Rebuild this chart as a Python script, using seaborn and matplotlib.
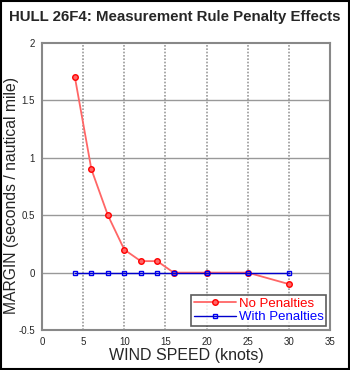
import numpy as np
import pandas as pd
import seaborn as sns
import matplotlib.pyplot as plt
from matplotlib.patches import Rectangle

# data
wind = [4, 6, 8, 10, 12, 14, 16, 20, 25, 30]
no_pen = [1.7, 0.9, 0.5, 0.2, 0.1, 0.1, 0.0, 0.0, 0.0, -0.1]
with_pen = [0, 0, 0, 0, 0, 0, 0, 0, 0, 0]
x_ticks = [0, 5, 10, 15, 20, 25, 30, 35]
y_ticks = [-0.5, 0, 0.5, 1, 1.5, 2]
y_labels = ['-0.5', '0', '0.5', '1', '1.5', '2']

df = pd.DataFrame({'wind': wind * 2,
                   'margin': no_pen + with_pen,
                   'series': ['No Penalties'] * len(wind) + ['With Penalties'] * len(wind)})

sns.set_style('white')
plt.rcParams['font.family'] = ['Liberation Sans', 'DejaVu Sans']

fig = plt.figure(figsize=(3.5, 3.7), dpi=100)
ax = fig.add_axes([0.12, 0.108, 0.823, 0.776])

# grid
for y in [0, 0.5, 1, 1.5]:
    ax.axhline(y, color='#999999', lw=1, zorder=0)
for x in [5, 10, 15, 20, 25, 30]:
    ax.axvline(x, color='#999999', lw=1.2, ls=(0, (1, 1)), zorder=0)

sns.lineplot(data=df[df.series == 'No Penalties'], x='wind', y='margin', ax=ax,
             color='#ff6666', lw=1.3, marker='o', markersize=4,
             markerfacecolor='#ff6666', markeredgecolor='red', markeredgewidth=1,
             label='No Penalties')
sns.lineplot(data=df[df.series == 'With Penalties'], x='wind', y='margin', ax=ax,
             color='#0000cc', lw=1.0, ls=(0, (4, 2)), marker='s', markersize=3.5,
             markerfacecolor='none', markeredgecolor='#0000ee', markeredgewidth=1,
             label='With Penalties')

ax.set_xlim(0, 35)
ax.set_ylim(-0.5, 2)
ax.set_xticks(x_ticks)
ax.set_yticks(y_ticks)
ax.set_yticklabels(y_labels)
ax.tick_params(labelsize=7, length=0, pad=5)
for s in ax.spines.values():
    s.set_color('#888888')
    s.set_linewidth(1.5)

ax.set_xlabel('WIND SPEED (knots)', fontsize=11.5, labelpad=1)
ax.set_ylabel('MARGIN (seconds / nautical mile)', fontsize=11.3)
ax.yaxis.set_label_coords(-0.08, 0.47)
fig.text(0.5, 0.955, 'HULL 26F4: Measurement Rule Penalty Effects',
         ha='center', va='center', fontsize=10.8, fontweight='bold')

handles, labels = ax.get_legend_handles_labels()
handles[1].set_linestyle('-')
leg = ax.legend(handles, labels, loc='lower right', fontsize=9.5, frameon=True,
                fancybox=False, edgecolor='#333333', borderpad=0.2,
                handlelength=3.2, handletextpad=0.2, labelspacing=0.1,
                borderaxespad=0.3)
leg.get_frame().set_linewidth(1.2)
for t, c in zip(leg.get_texts(), ['red', 'blue']):
    t.set_color(c)

fig.patches.append(Rectangle((0.003, 0.003), 0.994, 0.994, transform=fig.transFigure,
                             fill=False, edgecolor='black', lw=1.5))

fig.savefig('out.png', dpi=100)
